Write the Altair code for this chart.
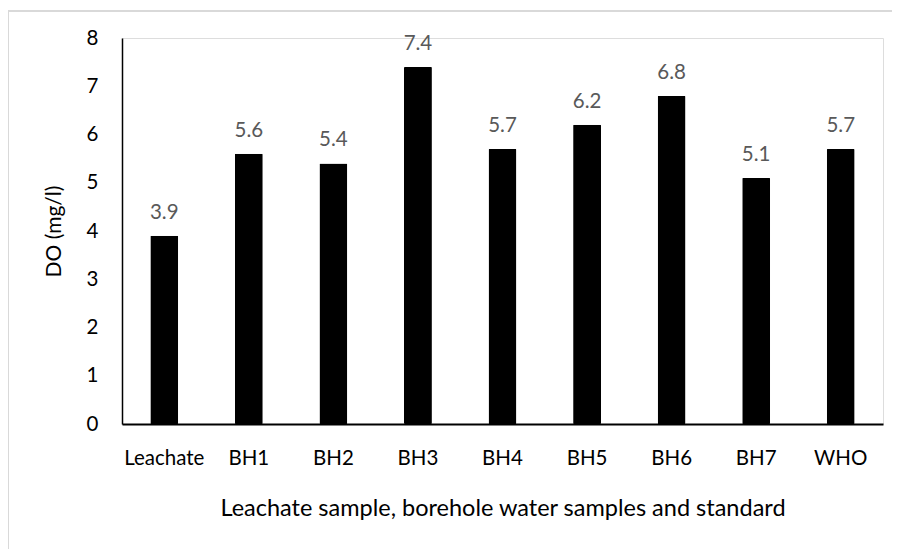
import altair as alt
import pandas as pd

categories = ["Leachate", "BH1", "BH2", "BH3", "BH4", "BH5", "BH6", "BH7", "WHO"]
do_values = [3.9, 5.6, 5.4, 7.4, 5.7, 6.2, 6.8, 5.1, 5.7]

df = pd.DataFrame({"cat": categories, "val": do_values})
df["label"] = df["val"].map(lambda v: f"{v:.1f}")

FONT = "Lato"

x_enc = alt.X("cat:N", sort=categories,
              scale=alt.Scale(paddingInner=0.67, paddingOuter=0.335),
              axis=alt.Axis(title="Leachate sample, borehole water samples and standard",
                            labelAngle=0, ticks=False, labelPadding=24,
                            labelFontSize=20.5, labelColor="#000000", labelFont=FONT,
                            titleFontSize=23.5, titleFontWeight="normal", titleFont=FONT,
                            titleColor="#000000", titlePadding=28,
                            domainColor="#000000", domainWidth=2))
y_enc = alt.Y("val:Q", scale=alt.Scale(domain=[0, 8], nice=False),
              axis=alt.Axis(title="DO (mg/l)", values=list(range(0, 9)), ticks=False,
                            grid=False, labelPadding=24, labelFontSize=20.5,
                            labelColor="#000000", labelFont=FONT,
                            titleFontSize=21, titleFontWeight="normal", titleFont=FONT,
                            titleColor="#000000", titlePadding=22,
                            domainColor="#000000", domainWidth=1.5))

bars = alt.Chart(df).mark_bar(color="#000000", cornerRadius=1).encode(x=x_enc, y=y_enc)
labels = alt.Chart(df).mark_text(dy=-17, baseline="alphabetic", fontSize=20.5,
                                 color="#595959", font=FONT).encode(
    x=alt.X("cat:N", sort=categories), y="val:Q", text="label:N")

frame = pd.DataFrame({"a": [0]})
top_line = alt.Chart(frame).mark_rule(color="#d9d9d9", strokeWidth=2).encode(
    x=alt.value(-114), x2=alt.value(770), y=alt.value(-27))
left_line = alt.Chart(frame).mark_rule(color="#d9d9d9", strokeWidth=2).encode(
    x=alt.value(-114), y=alt.value(-27), y2=alt.value(520))

chart = alt.layer(top_line, left_line, bars, labels).properties(
    width=761, height=386,
    autosize=alt.AutoSizeParams(type="none"),
    padding={"left": 114, "top": 30, "right": 9, "bottom": 125},
).configure_view(stroke=None).configure(background="#ffffff")

chart.save("out.html", embed_options={"renderer": "svg", "actions": False})
